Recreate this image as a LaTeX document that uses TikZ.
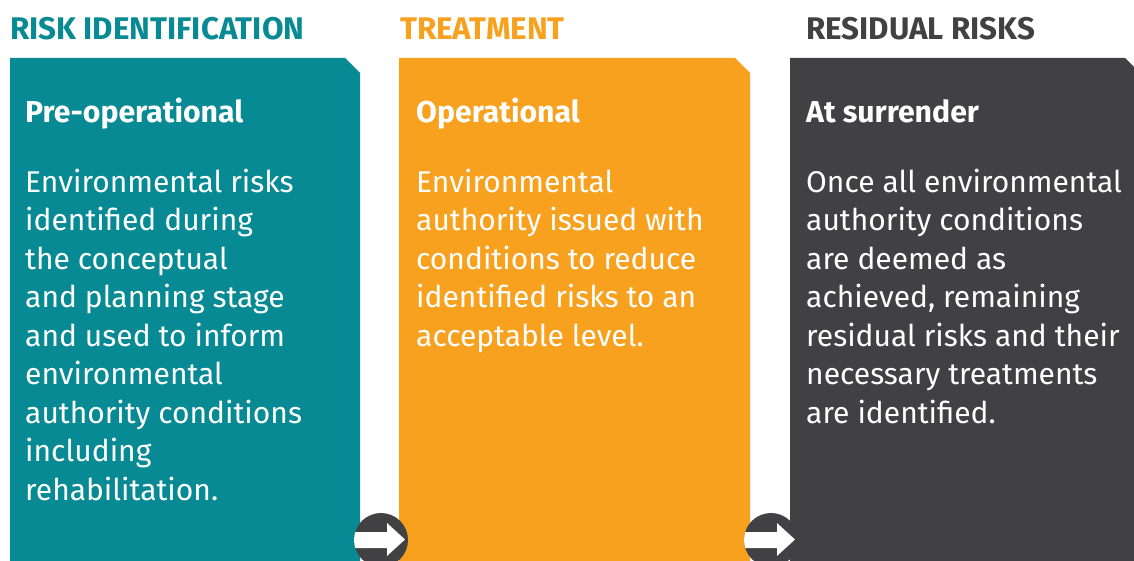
\documentclass[tikz,border=0pt]{standalone}
\usepackage{fontspec}
\setmainfont{Fira Sans}
\definecolor{teal1}{HTML}{078A93}
\definecolor{orange1}{HTML}{F7A11F}
\definecolor{dark1}{HTML}{414042}
\begin{document}
\begin{tikzpicture}[x=1pt,y=-1pt,
  title/.style={anchor=base west,inner sep=0pt,font=\fontsize{31.3}{36}\selectfont\bfseries},
  head/.style={anchor=base west,inner sep=0pt,text=white,font=\fontsize{30.2}{36}\selectfont\bfseries},
  body/.style={anchor=base west,inner sep=0pt,text=white,align=left,font=\fontsize{30}{38.5}\selectfont},
  arrowcirc/.style={circle,fill=dark1,minimum size=54pt,inner sep=0pt}]
\useasboundingbox (0,0) rectangle (1134,561);
\clip (0,0) rectangle (1134,561);
% boxes
\fill[teal1] (10,58) -- (345,58) -- (360,73) -- (360,561) -- (10,561) -- cycle;
\fill[orange1] (399,58) -- (735,58) -- (750,73) -- (750,561) -- (399,561) -- cycle;
\fill[dark1] (790,58) -- (1125,58) -- (1140,73) -- (1140,561) -- (790,561) -- cycle;
% titles
\node[title,text=teal1] (t1) at (10,40) {RISK IDENTIFICATION};
\node[title,text=orange1] (t2) at (400,40) {TREATMENT};
\node[title,text=dark1] (t3) at (806,40) {RESIDUAL RISKS};
% headings
\node[head] (h1) at (25,123) {Pre-operational};
\node[head] (h2) at (416,123) {Operational};
\node[head] (h3) at (806,123) {At surrender};
% bodies (anchored at the baseline of the last line)
\node[body] (b1) at (25,500) {Environmental risks\\identified during\\the conceptual\\and planning stage\\and used to inform\\environmental\\authority conditions\\including\\rehabilitation.};
\node[body] (b2) at (416,346) {Environmental\\authority issued with\\conditions to reduce\\identified risks to an\\acceptable level.};
\node[body] (b3) at (806,423) {Once all environmental\\authority conditions\\are deemed as\\achieved, remaining\\residual risks and their\\necessary treatments\\are identified.};
% arrow circles
\foreach \cx/\nm in {381/a1,771/a2}{
  \node[arrowcirc] (\nm) at (\cx,540) {};
  \begin{scope}
    \clip (\cx,540) circle (27);
    \fill[white] (\cx-30,532) -- (\cx+6,532) -- (\cx+6,523) -- (\cx+24,539.5) -- (\cx+6,556) -- (\cx+6,548) -- (\cx-30,548) -- cycle;
  \end{scope}
}
\end{tikzpicture}
\end{document}
